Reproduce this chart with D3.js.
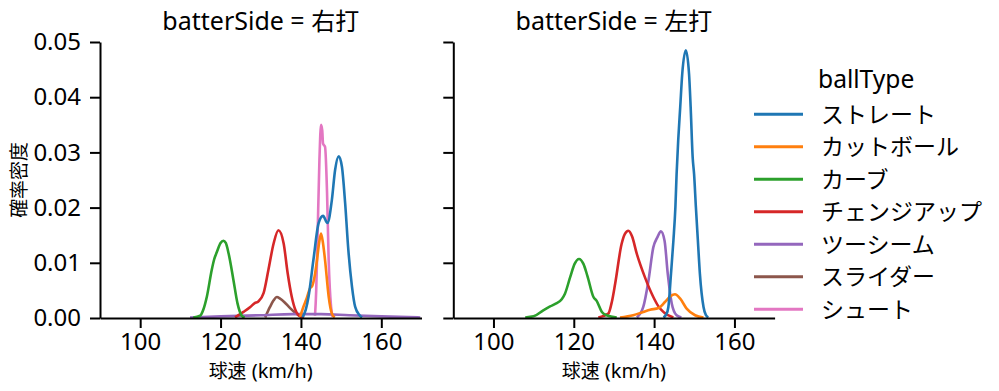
<!DOCTYPE html>
<html><head><meta charset="utf-8">
<script src="https://cdn.jsdelivr.net/npm/d3@7"></script>
<style>
body{margin:0;background:#fff;}
text{font-family:"Noto Sans","Noto Sans CJK JP",sans-serif;fill:#000;}
.cjk{font-family:"Noto Sans CJK JP",sans-serif;}
</style></head>
<body><svg id="c" width="999" height="391"></svg>
<script>
// ---- data (speed km/h, density) ----
const categories = ["ストレート","カットボール","カーブ","チェンジアップ","ツーシーム","スライダー","シュート"];
const palette = ["#1f77b4","#ff7f0e","#2ca02c","#d62728","#9467bd","#8c564b","#e377c2"];
const panels = ["右打","左打"];
const xTicks = [100,120,140,160];
const yTicks = [0,0.01,0.02,0.03,0.04,0.05];

// 右打
const R_straight = [[140.4,0.0001],[141.2,0.0015],[141.9,0.0039],[143.1,0.0105],[144.4,0.0172],[145.5,0.0185],[146.6,0.0172],[147.7,0.0214],[148.5,0.0268],[149.4,0.0293],[150.2,0.0274],[151.0,0.0208],[151.8,0.0123],[152.7,0.0057],[153.5,0.002],[154.6,0.0005],[155.2,0.0001]];
const R_cutter = [[139.8,0.0002],[140.6,0.002],[141.3,0.0033],[142.3,0.0054],[142.8,0.0058],[143.4,0.0075],[144.0,0.0105],[144.5,0.0135],[145.0,0.0153],[145.5,0.0135],[146.0,0.0105],[146.9,0.0039],[147.7,0.0008],[148.4,0.0001]];
const R_curve = [[113.2,0.0001],[114.9,0.0004],[115.7,0.0015],[116.6,0.0039],[117.8,0.0087],[118.4,0.0106],[119.1,0.012],[120.0,0.0136],[120.7,0.014],[121.3,0.0136],[122.0,0.0117],[123.2,0.0069],[124.2,0.0027],[125.3,0.0004],[126.0,0.0001]];
const R_change = [[123.6,0.0001],[125.7,0.0011],[127.4,0.002],[128.5,0.0027],[129.4,0.003],[130.7,0.0045],[131.9,0.0087],[133.2,0.0135],[134.4,0.0159],[135.7,0.0135],[136.7,0.0081],[137.7,0.0039],[138.6,0.0015],[139.4,0.0005],[140.8,0.0001]];
const R_twoseam = [[112.4,0.0001],[120,0.0003],[130,0.0005],[138,0.0007],[145,0.0007],[152,0.0005],[160,0.0003],[169.7,0.0001]];
const R_slider = [[131.1,0.0001],[132.3,0.002],[133.2,0.0032],[134.0,0.0038],[134.8,0.0035],[135.7,0.003],[137.3,0.0018],[138.5,0.001],[139.4,0.0005],[140.3,0.0001]];
const R_shoot = [[143.5,0.0004],[143.8,0.005],[144.1,0.0135],[144.6,0.0286],[145.0,0.035],[145.3,0.034],[145.5,0.0316],[146.0,0.031],[146.5,0.0226],[146.9,0.0105],[147.5,0.002],[147.9,0.0002]];

// 左打
const L_straight = [[142.3,0.0001],[143.0,0.0006],[143.55,0.002],[144.2,0.008],[144.8,0.014],[145.3,0.0201],[145.6,0.0261],[146.0,0.0322],[146.5,0.0382],[147.0,0.0442],[147.9,0.0485],[148.7,0.0442],[149.1,0.0382],[149.6,0.0291],[149.95,0.0261],[150.4,0.0201],[150.9,0.014],[151.4,0.008],[152.3,0.002],[152.9,0.0005],[153.5,0.0001]];
const L_cutter = [[131.5,0.0001],[134.8,0.0005],[137.3,0.0011],[139.0,0.0015],[141.1,0.0018],[142.7,0.0029],[144.0,0.0039],[145.2,0.0043],[146.5,0.0035],[148.1,0.0017],[150.2,0.0005],[152.3,0.0001]];
const L_curve = [[107.9,0.0001],[110.0,0.0003],[112.4,0.0014],[114.1,0.0021],[115.5,0.0026],[117.0,0.0034],[117.8,0.0044],[119.1,0.0074],[120.2,0.0098],[121.3,0.0107],[122.4,0.0098],[123.4,0.0076],[124.9,0.0038],[125.7,0.0031],[127.0,0.0011],[128.2,0.0005],[130.7,0.0001]];
const L_change = [[126.1,0.0001],[128.6,0.0008],[129.5,0.003],[130.3,0.0062],[131.9,0.0134],[132.7,0.0152],[133.6,0.0158],[134.5,0.0148],[135.7,0.0116],[137.7,0.0074],[139.8,0.0038],[141.0,0.0022],[142.3,0.0011],[144.8,0.0001]];
const L_twoseam = [[135.7,0.0001],[137.3,0.002],[138.6,0.0068],[139.8,0.0128],[140.8,0.0146],[141.7,0.0157],[142.6,0.014],[143.4,0.008],[144.4,0.0026],[145.6,0.0005],[146.8,0.0001]];

const panelSeries = [
  [R_straight,R_cutter,R_curve,R_change,R_twoseam,R_slider,R_shoot],
  [L_straight,L_cutter,L_curve,L_change,L_twoseam,null,null]
];

// ---- drawing ----
const svg = d3.select("#c");
const y = d3.scaleLinear().domain([0,0.05]).range([318,42]);
const panelX = [[100,421.5],[453.3,774.6]];

panels.forEach((p,i)=>{
  const x = d3.scaleLinear().domain([90,170]).range(panelX[i]);
  const g = svg.append("g");
  const line = d3.line().x(d=>x(d[0])).y(d=>y(d[1])).curve(d3.curveMonotoneX);
  // seaborn draws hue levels in reverse order
  for(let k=categories.length-1;k>=0;k--){
    const s = panelSeries[i][k];
    if(!s) continue;
    g.append("path").attr("d",line(s)).attr("fill","none")
     .attr("stroke",palette[k]).attr("stroke-width",2.6)
     .attr("stroke-linejoin","round").attr("stroke-linecap","butt");
  }
  const xa = g.append("g").attr("transform","translate(0,318)")
    .call(d3.axisBottom(x).tickValues(xTicks).tickSize(10).tickPadding(4.5).tickSizeOuter(0));
  const ya = g.append("g").attr("transform",`translate(${panelX[i][0]},0)`)
    .call(d3.axisLeft(y).tickValues(yTicks).tickSize(10).tickPadding(9).tickSizeOuter(0).tickFormat(i===0?d3.format(".2f"):()=>""));
  [xa,ya].forEach(a=>{
    a.select(".domain").attr("stroke","#000").attr("stroke-width",2);
    a.selectAll(".tick line").attr("stroke","#000").attr("stroke-width",2);
    a.selectAll("text").style("font-family",'"Noto Sans",sans-serif').style("font-size","24px").attr("fill","#000");
  });
  const cx = (panelX[i][0]+panelX[i][1])/2;
  const t = g.append("text").attr("x",cx).attr("y",29.5).attr("text-anchor","middle").style("font-size","25px");
  t.append("tspan").text("batterSide = ");
  t.append("tspan").attr("class","cjk").style("font-size","24px").text(p);
  const xl = g.append("text").attr("x",cx).attr("y",378).attr("text-anchor","middle").style("font-size","20px");
  xl.append("tspan").attr("class","cjk").style("font-size","18.9px").text("球速");
  xl.append("tspan").text(" (km/h)");
});

svg.append("text").attr("class","cjk").attr("transform","translate(25.5,180) rotate(-90)")
  .attr("text-anchor","middle").style("font-size","18.9px").text("確率密度");

// legend
const lg = svg.append("g");
lg.append("text").attr("x",818).attr("y",88).style("font-size","24.6px").text("ballType");
categories.forEach((c,k)=>{
  const yy = 114.3 + k*32.5;
  lg.append("line").attr("x1",754).attr("x2",803).attr("y1",yy).attr("y2",yy)
    .attr("stroke",palette[k]).attr("stroke-width",3);
  lg.append("text").attr("class","cjk").attr("x",821).attr("y",yy).attr("dy","0.36em")
    .style("font-size","23px").text(c);
});
</script></body></html>
